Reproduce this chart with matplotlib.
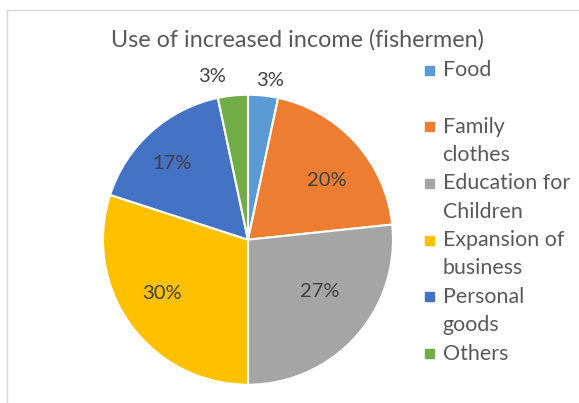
import matplotlib
matplotlib.use("Agg")
import numpy as np
import matplotlib.pyplot as plt
from matplotlib.patches import Rectangle

# answers from the fishermen survey (number of respondents per use)
categories = ["Food", "Family clothes", "Education for Children",
              "Expansion of business", "Personal goods", "Others"]
legend_labels = ["Food", "Family\nclothes", "Education for\nChildren",
                 "Expansion of\nbusiness", "Personal\ngoods", "Others"]
counts = [1, 6, 8, 9, 5, 1]
colors = ["#5B9BD5", "#ED7D31", "#A5A5A5", "#FFC000", "#4472C4", "#70AD47"]

# where each percentage label sits (fraction of radius, angle nudge in degrees)
label_r = [1.11, 0.68, 0.61, 0.70, 0.745, 1.15]
label_nudge = [-2, -5, 6, -4, 3, 6.5]

W, H = 579, 403
fig = plt.figure(figsize=(W / 100, H / 100), dpi=100)
plt.rcParams["font.family"] = ["Lato", "DejaVu Sans"]
txt = "#595959"

# pie centre at (248, 240) px, radius 145 px
cx, cy, r = 248, 239.7, 145
ax = fig.add_axes([(cx - r) / W, (H - cy - r) / H, 2 * r / W, 2 * r / H])

wedges, _ = ax.pie(counts, colors=colors, startangle=90, counterclock=False,
                   radius=1, wedgeprops=dict(edgecolor="white", linewidth=1.5))
# pie() resets the limits, so set them afterwards
ax.set_xlim(-1, 1)
ax.set_ylim(-1, 1)
ax.set_aspect("auto")
ax.axis("off")

total = sum(counts)
for w, c, rr, nd in zip(wedges, counts, label_r, label_nudge):
    mid = np.deg2rad((w.theta1 + w.theta2) / 2 + nd)
    ax.text(rr * np.cos(mid), rr * np.sin(mid), f"{100 * c / total:.0f}%",
            ha="center", va="center", fontsize=14.5, color="#404040", clip_on=False)

fig.text(297 / W, 1 - 39.5 / H, "Use of increased income (fishermen)",
         ha="center", va="center", fontsize=16.8, color=txt)

# legend drawn by hand: square marker, wrapped labels two lines per entry
y0, step, line = 70, 56.7, 28.3
for i, (lab, col) in enumerate(zip(legend_labels, colors)):
    y = y0 + i * step
    fig.patches.append(Rectangle((425 / W, 1 - (y + 4.5) / H), 9 / W, 9 / H,
                                 transform=fig.transFigure, color=col))
    for j, part in enumerate(lab.split("\n")):
        fig.text(442.5 / W, 1 - (y + j * line) / H, part, ha="left", va="center",
                 fontsize=15.4, color=txt)

# chart-area frame, only the top and left edges fall inside the image
fig.add_artist(plt.Line2D([7.5 / W, 7.5 / W], [0, 1 - 9.5 / H],
                          transform=fig.transFigure, color="#D9D9D9", lw=1))
fig.add_artist(plt.Line2D([7.5 / W, 1], [1 - 9.5 / H, 1 - 9.5 / H],
                          transform=fig.transFigure, color="#D9D9D9", lw=1))

fig.savefig("out.png", dpi=100)
